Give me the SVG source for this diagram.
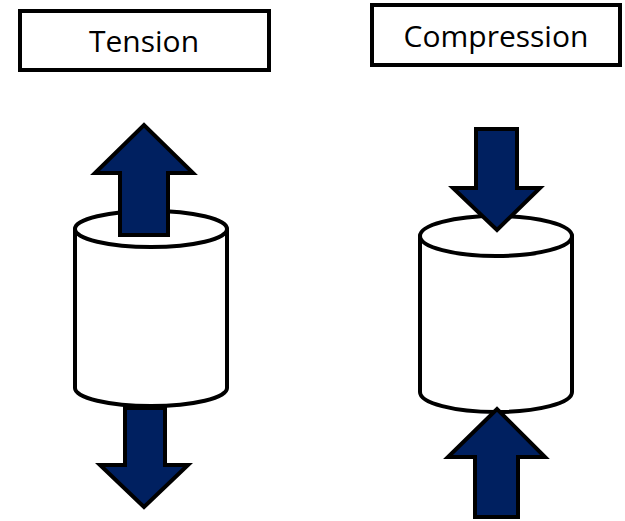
<svg xmlns="http://www.w3.org/2000/svg" width="625" height="521" viewBox="0 0 625 521">
  <style>
    .box { fill: #ffffff; stroke: #000000; stroke-width: 4; }
    .label { font-family: "Open Sans", "Liberation Sans", Arial, sans-serif; font-size: 30px; fill: #000000; text-anchor: middle; }
    .cyl { fill: #ffffff; stroke: #000000; stroke-width: 4; stroke-linejoin: round; }
    .force { fill: #002060; stroke: #000000; stroke-width: 4; stroke-linejoin: miter; }
  </style>
  <rect width="625" height="521" fill="#ffffff"/>

  <!-- Titles -->
  <g id="title-tension">
    <rect class="box" x="20" y="11" width="249" height="59"/>
    <text class="label" x="144" y="52">Tension</text>
  </g>
  <g id="title-compression">
    <rect class="box" x="372" y="5" width="248" height="60"/>
    <text class="label" x="496" y="47">Compression</text>
  </g>

  <!-- Tension specimen: pulled from both ends -->
  <g id="tension-specimen">
    <polygon class="force" points="125,408 165,408 165,465 188,465 144,507 100,465 125,465"/>
    <path class="cyl" d="M75,229 L75,388 A76,18 0 0 0 227,388 L227,229 Z"/>
    <ellipse class="cyl" cx="151" cy="229" rx="76" ry="18"/>
    <polygon class="force" points="120,235 168,235 168,173 193,173 144,125 95,173 120,173"/>
  </g>

  <!-- Compression specimen: pushed from both ends -->
  <g id="compression-specimen">
    <path class="cyl" d="M420,236 L420,392 A76,20 0 0 0 572,392 L572,236 Z"/>
    <ellipse class="cyl" cx="496" cy="236" rx="76" ry="20"/>
    <polygon class="force" points="476,129 517,129 517,188 540,188 497,230 453,188 476,188"/>
    <polygon class="force" points="475,517 518,517 518,457 545,457 497,409 448,457 475,457"/>
  </g>
</svg>
